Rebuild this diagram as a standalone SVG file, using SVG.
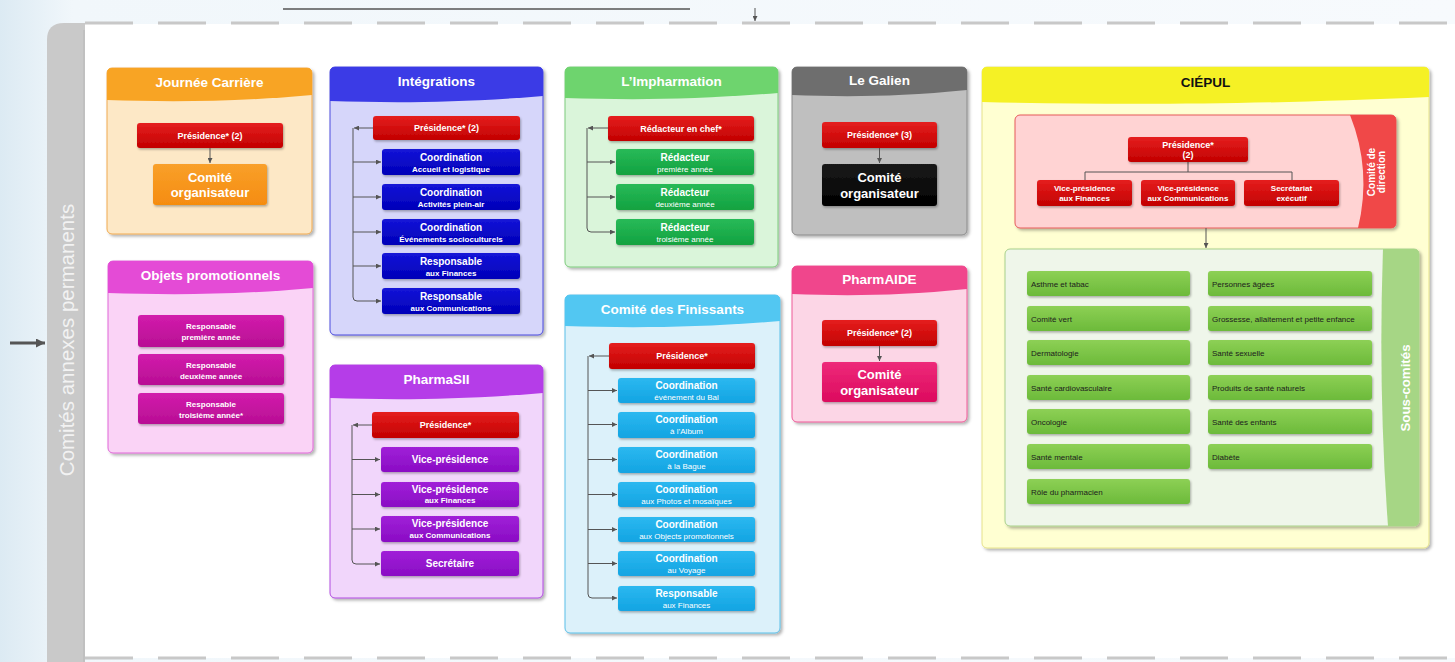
<svg xmlns="http://www.w3.org/2000/svg" width="1455" height="662" viewBox="0 0 1455 662">
<defs>
<linearGradient id="bg" x1="0" y1="0" x2="1" y2="0">
<stop offset="0" stop-color="#DCEAF3"/><stop offset="0.05" stop-color="#F1F7FB"/><stop offset="1" stop-color="#F7FAFD"/>
</linearGradient>
<linearGradient id="red" x1="0" y1="0" x2="0" y2="1"><stop offset="0" stop-color="#E51E1E"/><stop offset="1" stop-color="#C20000"/></linearGradient>
<linearGradient id="blue" x1="0" y1="0" x2="0" y2="1"><stop offset="0" stop-color="#1414D8"/><stop offset="1" stop-color="#0000B8"/></linearGradient>
<linearGradient id="mag" x1="0" y1="0" x2="0" y2="1"><stop offset="0" stop-color="#D21CAC"/><stop offset="1" stop-color="#B80E94"/></linearGradient>
<linearGradient id="pur" x1="0" y1="0" x2="0" y2="1"><stop offset="0" stop-color="#A020D8"/><stop offset="1" stop-color="#8A0CC4"/></linearGradient>
<linearGradient id="grn" x1="0" y1="0" x2="0" y2="1"><stop offset="0" stop-color="#28BA58"/><stop offset="1" stop-color="#12A240"/></linearGradient>
<linearGradient id="cya" x1="0" y1="0" x2="0" y2="1"><stop offset="0" stop-color="#2CB8F0"/><stop offset="1" stop-color="#12A4E2"/></linearGradient>
<linearGradient id="org" x1="0" y1="0" x2="0" y2="1"><stop offset="0" stop-color="#F9A02A"/><stop offset="1" stop-color="#F58C10"/></linearGradient>
<linearGradient id="blk" x1="0" y1="0" x2="0" y2="1"><stop offset="0" stop-color="#1A1A1A"/><stop offset="1" stop-color="#000"/></linearGradient>
<linearGradient id="pnk" x1="0" y1="0" x2="0" y2="1"><stop offset="0" stop-color="#EE2A7A"/><stop offset="1" stop-color="#DC0A5E"/></linearGradient>
<linearGradient id="lim" x1="0" y1="0" x2="0" y2="1"><stop offset="0" stop-color="#8DD055"/><stop offset="1" stop-color="#6CBA3A"/></linearGradient>
<filter id="sh" x="-5%" y="-5%" width="112%" height="112%"><feDropShadow dx="2" dy="2" stdDeviation="1.5" flood-color="#000" flood-opacity="0.3"/></filter>
<filter id="sh2" x="-5%" y="-10%" width="115%" height="130%"><feDropShadow dx="1" dy="1.5" stdDeviation="0.8" flood-color="#000" flood-opacity="0.3"/></filter>
<marker id="ah" viewBox="0 0 6 6" refX="6" refY="3" markerWidth="5" markerHeight="5" markerUnits="userSpaceOnUse" orient="auto"><path d="M0,0 L6,3 L0,6 Z" fill="#555"/></marker>
<marker id="ahb" viewBox="0 0 6 6" refX="6" refY="3" markerWidth="9" markerHeight="9" markerUnits="userSpaceOnUse" orient="auto"><path d="M0,0 L6,3 L0,6 Z" fill="#555"/></marker>
<style>
.t{font-family:"Liberation Sans",Arial,sans-serif;font-weight:bold;fill:#fff;text-anchor:middle}
.ti{font-size:13.5px}
.l1{font-size:10px}
.l2{font-size:8px}
.n2{font-size:8px;font-weight:normal}
.pr{font-size:9px}
.co{font-size:13px}
.sc{font-family:"Liberation Sans",Arial,sans-serif;font-size:8px;fill:#1c1c1c}
.conn{fill:none;stroke:#555;stroke-width:1}
.box{filter:url(#sh2)}
.cont{filter:url(#sh)}
</style>
</defs>

<rect x="0" y="0" width="1455" height="662" fill="url(#bg)"/>
<rect x="85" y="24" width="1370" height="634" fill="#fff"/>
<path d="M47,662 V40 Q47,23 64,23 H85 V662 Z" fill="#C9C9C9"/>
<line x1="84" y1="30" x2="84" y2="662" stroke="#BDBDBD" stroke-width="1.5"/>
<text x="73.5" y="340" transform="rotate(-90 73.5 340)" style="font-family:'Liberation Sans',Arial,sans-serif;font-size:20.5px;fill:#F2F2F2;text-anchor:middle">Comités annexes permanents</text>
<line x1="85" y1="23" x2="1455" y2="23" stroke="#C8C8C8" stroke-width="3" stroke-dasharray="48 25"/>
<line x1="85" y1="658" x2="1455" y2="658" stroke="#C8C8C8" stroke-width="3" stroke-dasharray="48 25"/>

<g id="connectors">
<line x1="283" y1="9" x2="690" y2="9" stroke="#555" stroke-width="1.5"/>
<path class="conn" d="M755,8 V21" marker-end="url(#ah)"/>
<path d="M10,343 H45" fill="none" stroke="#555" stroke-width="3" marker-end="url(#ahb)"/>
</g>

<g id="journee-carriere">
<rect class="cont" x="107" y="68" width="205" height="166" rx="5" fill="#FDE8C6" stroke="#F0AA50"/>
<path d="M107,100 V73 Q107,68 112,68 H307 Q312,68 312,73 V95 C235,102 168.5,102 107,100 Z" fill="#F8A424"/>
<text class="t ti" x="209.5" y="87">Journée Carrière</text>
<rect class="box" x="137" y="123" width="146" height="25" rx="3" fill="url(#red)"/>
<text class="t pr" x="210" y="138.5">Présidence* (2)</text>
<path class="conn" d="M210,148 V163" marker-end="url(#ah)"/>
<rect class="box" x="153" y="164" width="114" height="41" rx="3" fill="url(#org)"/>
<text class="t co" x="210" y="182">Comité</text>
<text class="t co" x="210" y="197">organisateur</text>
</g>

<g id="objets-promotionnels">
<rect class="cont" x="108" y="261" width="205" height="192" rx="5" fill="#FAD3F6" stroke="#E066D8"/>
<path d="M108,293 V266 Q108,261 113,261 H308 Q313,261 313,266 V288 C236,295 169.5,295 108,293 Z" fill="#E44BD6"/>
<text class="t ti" x="210.5" y="280">Objets promotionnels</text>
<rect class="box" x="138" y="315" width="146" height="32" rx="3" fill="url(#mag)"/>
<text class="t l2" x="211" y="329">Responsable</text><text class="t l2" x="211" y="340">première année</text>
<rect class="box" x="138" y="354" width="146" height="31" rx="3" fill="url(#mag)"/>
<text class="t l2" x="211" y="368">Responsable</text><text class="t l2" x="211" y="379">deuxième année</text>
<rect class="box" x="138" y="393" width="146" height="31" rx="3" fill="url(#mag)"/>
<text class="t l2" x="211" y="407">Responsable</text><text class="t l2" x="211" y="418">troisième année*</text>
</g>

<g id="integrations">
<rect class="cont" x="330" y="67" width="213" height="268" rx="5" fill="#D6D6FA" stroke="#4A4ADD"/>
<path d="M330,101 V72 Q330,67 335,67 H538 Q543,67 543,72 V96 C458,103 394,103 330,101 Z" fill="#3B3BE6"/>
<text class="t ti" x="436.5" y="86">Intégrations</text>
<path class="conn" d="M373,128 H354" marker-end="url(#ah)"/>
<path class="conn" d="M353,128 V297 Q353,301 357,301 H381" marker-end="url(#ah)"/>
<path class="conn" d="M353,162 H381" marker-end="url(#ah)"/>
<path class="conn" d="M353,197 H381" marker-end="url(#ah)"/>
<path class="conn" d="M353,232 H381" marker-end="url(#ah)"/>
<path class="conn" d="M353,266 H381" marker-end="url(#ah)"/>
<rect class="box" x="373" y="116" width="147" height="24" rx="3" fill="url(#red)"/>
<text class="t pr" x="446.5" y="131">Présidence* (2)</text>
<rect class="box" x="382" y="149" width="138" height="26" rx="3" fill="url(#blue)"/>
<text class="t l1" x="451" y="161">Coordination</text><text class="t l2" x="451" y="171.5">Accueil et logistique</text>
<rect class="box" x="382" y="184" width="138" height="26" rx="3" fill="url(#blue)"/>
<text class="t l1" x="451" y="196">Coordination</text><text class="t l2" x="451" y="206.5">Activités plein-air</text>
<rect class="box" x="382" y="219" width="138" height="26" rx="3" fill="url(#blue)"/>
<text class="t l1" x="451" y="231">Coordination</text><text class="t l2" x="451" y="241.5">Événements socioculturels</text>
<rect class="box" x="382" y="253" width="138" height="26" rx="3" fill="url(#blue)"/>
<text class="t l1" x="451" y="265">Responsable</text><text class="t l2" x="451" y="275.5">aux Finances</text>
<rect class="box" x="382" y="288" width="138" height="26" rx="3" fill="url(#blue)"/>
<text class="t l1" x="451" y="300">Responsable</text><text class="t l2" x="451" y="310.5">aux Communications</text>
</g>

<g id="pharmasii">
<rect class="cont" x="330" y="365" width="213" height="233" rx="5" fill="#F1D6FB" stroke="#B04AE0"/>
<path d="M330,398 V370 Q330,365 335,365 H538 Q543,365 543,370 V393 C458,400 394,400 330,398 Z" fill="#B53DE8"/>
<text class="t ti" x="436.5" y="384">PharmaSII</text>
<path class="conn" d="M372,425 H353" marker-end="url(#ah)"/>
<path class="conn" d="M352,425 V560 Q352,564 356,564 H380" marker-end="url(#ah)"/>
<path class="conn" d="M352,459.5 H380" marker-end="url(#ah)"/>
<path class="conn" d="M352,494.5 H380" marker-end="url(#ah)"/>
<path class="conn" d="M352,529 H380" marker-end="url(#ah)"/>
<rect class="box" x="372" y="412" width="147" height="26" rx="3" fill="url(#red)"/>
<text class="t pr" x="445.5" y="428">Présidence*</text>
<rect class="box" x="381" y="447" width="138" height="25" rx="3" fill="url(#pur)"/>
<text class="t l1" x="450" y="463">Vice-présidence</text>
<rect class="box" x="381" y="482" width="138" height="25" rx="3" fill="url(#pur)"/>
<text class="t l1" x="450" y="493">Vice-présidence</text><text class="t l2" x="450" y="503">aux Finances</text>
<rect class="box" x="381" y="516" width="138" height="26" rx="3" fill="url(#pur)"/>
<text class="t l1" x="450" y="527">Vice-présidence</text><text class="t l2" x="450" y="538">aux Communications</text>
<rect class="box" x="381" y="551" width="138" height="25" rx="3" fill="url(#pur)"/>
<text class="t l1" x="450" y="567">Secrétaire</text>
</g>

<g id="impharmation">
<rect class="cont" x="565" y="67" width="213" height="200" rx="5" fill="#DAF5DA" stroke="#7CCB7C"/>
<path d="M565,98 V72 Q565,67 570,67 H773 Q778,67 778,72 V93 C693,100 629,100 565,98 Z" fill="#6ED46E"/>
<text class="t ti" x="671.5" y="86">L’Impharmation</text>
<path class="conn" d="M608,128 H588" marker-end="url(#ah)"/>
<path class="conn" d="M587,128 V228 Q587,232 591,232 H615" marker-end="url(#ah)"/>
<path class="conn" d="M587,162 H615" marker-end="url(#ah)"/>
<path class="conn" d="M587,197 H615" marker-end="url(#ah)"/>
<rect class="box" x="608" y="116" width="146" height="25" rx="3" fill="url(#red)"/>
<text class="t pr" x="681" y="131.5">Rédacteur en chef*</text>
<rect class="box" x="616" y="149" width="138" height="26" rx="3" fill="url(#grn)"/>
<text class="t l1" x="685" y="161">Rédacteur</text><text class="t n2" x="685" y="171.5">première année</text>
<rect class="box" x="616" y="184" width="138" height="26" rx="3" fill="url(#grn)"/>
<text class="t l1" x="685" y="196">Rédacteur</text><text class="t n2" x="685" y="206.5">deuxième année</text>
<rect class="box" x="616" y="219" width="138" height="26" rx="3" fill="url(#grn)"/>
<text class="t l1" x="685" y="231">Rédacteur</text><text class="t n2" x="685" y="241.5">troisième année</text>
</g>

<g id="comite-des-finissants">
<rect class="cont" x="565" y="295" width="215" height="338" rx="5" fill="#DCF1FA" stroke="#5BBFE8"/>
<path d="M565,326 V300 Q565,295 570,295 H775 Q780,295 780,300 V321 C694,328 629.5,328 565,326 Z" fill="#52C7F2"/>
<text class="t ti" x="672.5" y="314">Comité des Finissants</text>
<path class="conn" d="M609,356 H589" marker-end="url(#ah)"/>
<path class="conn" d="M588,356 V594 Q588,598 592,598 H617" marker-end="url(#ah)"/>
<path class="conn" d="M588,390.5 H617" marker-end="url(#ah)"/>
<path class="conn" d="M588,424.5 H617" marker-end="url(#ah)"/>
<path class="conn" d="M588,459.5 H617" marker-end="url(#ah)"/>
<path class="conn" d="M588,494.5 H617" marker-end="url(#ah)"/>
<path class="conn" d="M588,529.5 H617" marker-end="url(#ah)"/>
<path class="conn" d="M588,563.5 H617" marker-end="url(#ah)"/>
<rect class="box" x="609" y="343" width="146" height="26" rx="3" fill="url(#red)"/>
<text class="t pr" x="682" y="359">Présidence*</text>
<rect class="box" x="618" y="378" width="137" height="25" rx="3" fill="url(#cya)"/>
<text class="t l1" x="686.5" y="389">Coordination</text><text class="t n2" x="686.5" y="399.5">événement du Bal</text>
<rect class="box" x="618" y="412" width="137" height="26" rx="3" fill="url(#cya)"/>
<text class="t l1" x="686.5" y="423">Coordination</text><text class="t n2" x="686.5" y="434">à l’Album</text>
<rect class="box" x="618" y="447" width="137" height="26" rx="3" fill="url(#cya)"/>
<text class="t l1" x="686.5" y="458">Coordination</text><text class="t n2" x="686.5" y="469">à la Bague</text>
<rect class="box" x="618" y="482" width="137" height="25" rx="3" fill="url(#cya)"/>
<text class="t l1" x="686.5" y="493">Coordination</text><text class="t n2" x="686.5" y="503.5">aux Photos et mosaïques</text>
<rect class="box" x="618" y="517" width="137" height="25" rx="3" fill="url(#cya)"/>
<text class="t l1" x="686.5" y="528">Coordination</text><text class="t n2" x="686.5" y="538.5">aux Objects promotionnels</text>
<rect class="box" x="618" y="551" width="137" height="25" rx="3" fill="url(#cya)"/>
<text class="t l1" x="686.5" y="562">Coordination</text><text class="t n2" x="686.5" y="572.5">au Voyage</text>
<rect class="box" x="618" y="586" width="137" height="25" rx="3" fill="url(#cya)"/>
<text class="t l1" x="686.5" y="597">Responsable</text><text class="t n2" x="686.5" y="607.5">aux Finances</text>
</g>

<g id="le-galien">
<rect class="cont" x="792" y="67" width="175" height="168" rx="5" fill="#BFBFBF" stroke="#8A8A8A"/>
<path d="M792,95 V72 Q792,67 797,67 H962 Q967,67 967,72 V90 C897,97 844.5,97 792,95 Z" fill="#6E6E6E"/>
<text class="t ti" x="879.5" y="85">Le Galien</text>
<rect class="box" x="822" y="122" width="115" height="26" rx="3" fill="url(#red)"/>
<text class="t pr" x="879.5" y="138">Présidence* (3)</text>
<path class="conn" d="M879.5,148 V163" marker-end="url(#ah)"/>
<rect class="box" x="822" y="164" width="115" height="42" rx="3" fill="url(#blk)"/>
<text class="t co" x="879.5" y="182">Comité</text>
<text class="t co" x="879.5" y="198">organisateur</text>
</g>

<g id="pharmaide">
<rect class="cont" x="792" y="266" width="175" height="156" rx="5" fill="#FCD6E6" stroke="#EE5A98"/>
<path d="M792,294 V271 Q792,266 797,266 H962 Q967,266 967,271 V289 C897,296 844.5,296 792,294 Z" fill="#F0468C"/>
<text class="t ti" x="879.5" y="284">PharmAIDE</text>
<rect class="box" x="822" y="320" width="115" height="26" rx="3" fill="url(#red)"/>
<text class="t pr" x="879.5" y="336">Présidence* (2)</text>
<path class="conn" d="M879.5,346 V361" marker-end="url(#ah)"/>
<rect class="box" x="822" y="362" width="115" height="40" rx="3" fill="url(#pnk)"/>
<text class="t co" x="879.5" y="379">Comité</text>
<text class="t co" x="879.5" y="395">organisateur</text>
</g>

<g id="ciepul">
<rect class="cont" x="982" y="67" width="447" height="481" rx="5" fill="#FFFFD2" stroke="#E6E28A"/>
<path d="M982,102 V72 Q982,67 987,67 H1424 Q1429,67 1429,72 V97 C1250,105 1116,105 982,102 Z" fill="#F5F125"/>
<text class="t ti" x="1205.5" y="87" style="fill:#111">CIÉPUL</text>
</g>

<g id="comite-de-direction">
<rect class="cont" x="1015" y="115" width="381" height="113" rx="5" fill="#FFD3D3" stroke="#E65A5A"/>
<path d="M1350,115 H1391 Q1396,115 1396,120 V223 Q1396,228 1391,228 H1358 Q1372,170 1350,115 Z" fill="#F04848"/>
<text class="t" x="1375" y="172" font-size="10" transform="rotate(-90 1375 172)">Comité de</text>
<text class="t" x="1385" y="172" font-size="10" transform="rotate(-90 1385 172)">direction</text>
<path class="conn" d="M1188,162 V172 M1085,180 V172 H1292 V180"/>
<rect class="box" x="1128" y="137" width="120" height="25" rx="3" fill="url(#red)"/>
<text class="t pr" x="1188" y="147.5">Présidence*</text>
<text class="t pr" x="1188" y="158">(2)</text>
<rect class="box" x="1037" y="180" width="95" height="26" rx="3" fill="url(#red)"/>
<text class="t l2" x="1084.5" y="190.5">Vice-présidence</text><text class="t l2" x="1084.5" y="200.5">aux Finances</text>
<rect class="box" x="1141" y="180" width="94" height="26" rx="3" fill="url(#red)"/>
<text class="t l2" x="1188" y="190.5">Vice-présidence</text><text class="t l2" x="1188" y="200.5">aux Communications</text>
<rect class="box" x="1244" y="180" width="95" height="26" rx="3" fill="url(#red)"/>
<text class="t l2" x="1291.5" y="190.5">Secrétariat</text><text class="t l2" x="1291.5" y="200.5">exécutif</text>
</g>

<g id="connector-ciepul">
<path class="conn" d="M1206,228 V248" marker-end="url(#ah)"/>
</g>

<g id="sous-comites">
<rect class="cont" x="1005" y="249" width="414" height="277" rx="5" fill="#EFF6EA" stroke="#A8D08A"/>
<path d="M1383,249 H1414 Q1419,249 1419,254 V521 Q1419,526 1414,526 H1388 Q1378,390 1383,249 Z" fill="#A6D685"/>
<text class="t" x="1410" y="388" font-size="13.3" transform="rotate(-90 1410 388)">Sous-comités</text>
<g class="box">
<rect x="1027" y="271" width="163" height="25" rx="3" fill="url(#lim)"/>
<rect x="1027" y="306" width="163" height="25" rx="3" fill="url(#lim)"/>
<rect x="1027" y="340" width="163" height="25" rx="3" fill="url(#lim)"/>
<rect x="1027" y="375" width="163" height="25" rx="3" fill="url(#lim)"/>
<rect x="1027" y="409" width="163" height="25" rx="3" fill="url(#lim)"/>
<rect x="1027" y="444" width="163" height="25" rx="3" fill="url(#lim)"/>
<rect x="1027" y="479" width="163" height="25" rx="3" fill="url(#lim)"/>
<rect x="1208" y="271" width="164" height="25" rx="3" fill="url(#lim)"/>
<rect x="1208" y="306" width="164" height="25" rx="3" fill="url(#lim)"/>
<rect x="1208" y="340" width="164" height="25" rx="3" fill="url(#lim)"/>
<rect x="1208" y="375" width="164" height="25" rx="3" fill="url(#lim)"/>
<rect x="1208" y="409" width="164" height="25" rx="3" fill="url(#lim)"/>
<rect x="1208" y="444" width="164" height="25" rx="3" fill="url(#lim)"/>
</g>
<text class="sc" x="1031" y="286.5">Asthme et tabac</text>
<text class="sc" x="1031" y="321.5">Comité vert</text>
<text class="sc" x="1031" y="355.5">Dermatologie</text>
<text class="sc" x="1031" y="390.5">Santé cardiovasculaire</text>
<text class="sc" x="1031" y="424.5">Oncologie</text>
<text class="sc" x="1031" y="459.5">Santé mentale</text>
<text class="sc" x="1031" y="494.5">Rôle du pharmacien</text>
<text class="sc" x="1212" y="286.5">Personnes âgées</text>
<text class="sc" x="1212" y="321.5">Grossesse, allaitement et petite enfance</text>
<text class="sc" x="1212" y="355.5">Santé sexuelle</text>
<text class="sc" x="1212" y="390.5">Produits de santé naturels</text>
<text class="sc" x="1212" y="424.5">Santé des enfants</text>
<text class="sc" x="1212" y="459.5">Diabète</text>
</g>
</svg>
